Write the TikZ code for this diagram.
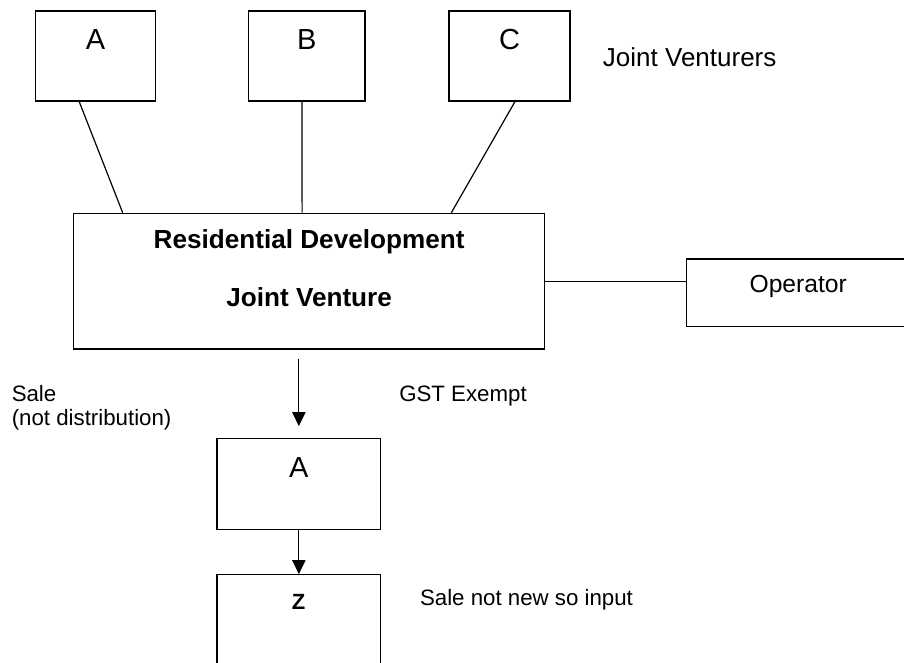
\documentclass[tikz,border=0pt]{standalone}
\usepackage{fontspec}
\setmainfont{Liberation Sans}
\usetikzlibrary{arrows.meta,fit,calc}
\begin{document}
\begin{tikzpicture}[x=0.75pt,y=-0.75pt,
  box/.style={draw,line width=0.9pt,inner sep=0pt,rectangle},
  conn/.style={line width=0.9pt},
  arr/.style={line width=0.9pt,-{Triangle[length=10.5pt,width=10pt]}},
  txt/.style={inner sep=0pt,anchor=base west},
  ctxt/.style={inner sep=0pt,anchor=base},
  bigletter/.style={font=\fontsize{21.75}{26}\selectfont},
  midtext/.style={font=\fontsize{16.7}{20}\selectfont},
  boldtext/.style={font=\fontsize{19.6}{24}\selectfont\bfseries}]
\useasboundingbox (0,0) rectangle (904,662);
\clip (0,0) rectangle (904,662);

% boxes
\node[box, fit={(35.7,11) (155.3,101)}] (bA) {};
\node[box, fit={(248.7,11) (365,101)}] (bB) {};
\node[box, fit={(449,11) (570,101)}] (bC) {};
\node[box, fit={(73.7,213.3) (544.7,349)}] (main) {};
\node[box, fit={(686.7,259) (910,326.7)}] (op) {};
\node[box, fit={(217,438.7) (380.7,529.3)}] (a2) {};
\node[box, fit={(217,574.7) (380.7,690)}] (z) {};

% texts
\node[ctxt, bigletter] (tA) at (95.5,49.3) {A};
\node[ctxt, bigletter] (tB) at (306.9,49.3) {B};
\node[ctxt, bigletter] (tC) at (509.5,49.3) {C};
\node[txt, font=\fontsize{19.5}{24}\selectfont] (tJV) at (602.7,66.7) {Joint Venturers};
\node[ctxt, boldtext] (tRD) at (309.1,248.5) {Residential Development};
\node[ctxt, boldtext] (tJVe) at (309.1,306) {Joint Venture};
\node[txt, font=\fontsize{18.5}{22}\selectfont] (tOp) at (749.3,292.7) {Operator};
\node[txt, midtext] (tSale) at (11.5,401.7) {Sale};
\node[txt, midtext] (tNot) at (11.5,425.5) {(not distribution)};
\node[txt, midtext] (tGST) at (399,401) {GST Exempt};
\node[ctxt, bigletter] (tA2) at (298.7,477) {A};
\node[ctxt, font=\fontsize{16.5}{20}\selectfont\bfseries] (tZ) at (298.7,609.3) {Z};
\node[txt, midtext] (tSNN) at (419.8,605) {Sale not new so input};

% connectors
\draw[conn] ($(bA.south west)!0.365!(bA.south east)$) -- ($(main.north west)!0.105!(main.north east)$);
\draw[conn] ($(bB.south west)!0.458!(bB.south east)$) -- ($(main.north west)!0.485!(main.north east)$);
\draw[conn] ($(bC.south west)!0.545!(bC.south east)$) -- ($(main.north west)!0.801!(main.north east)$);
\draw[conn] (main.east) -- (main.east -| op.west);
\draw[arr, shorten <=7pt, shorten >=9pt] (main.south -| a2.north) -- (a2.north);
\draw[arr] (a2.south) -- (z.north);
\end{tikzpicture}
\end{document}
